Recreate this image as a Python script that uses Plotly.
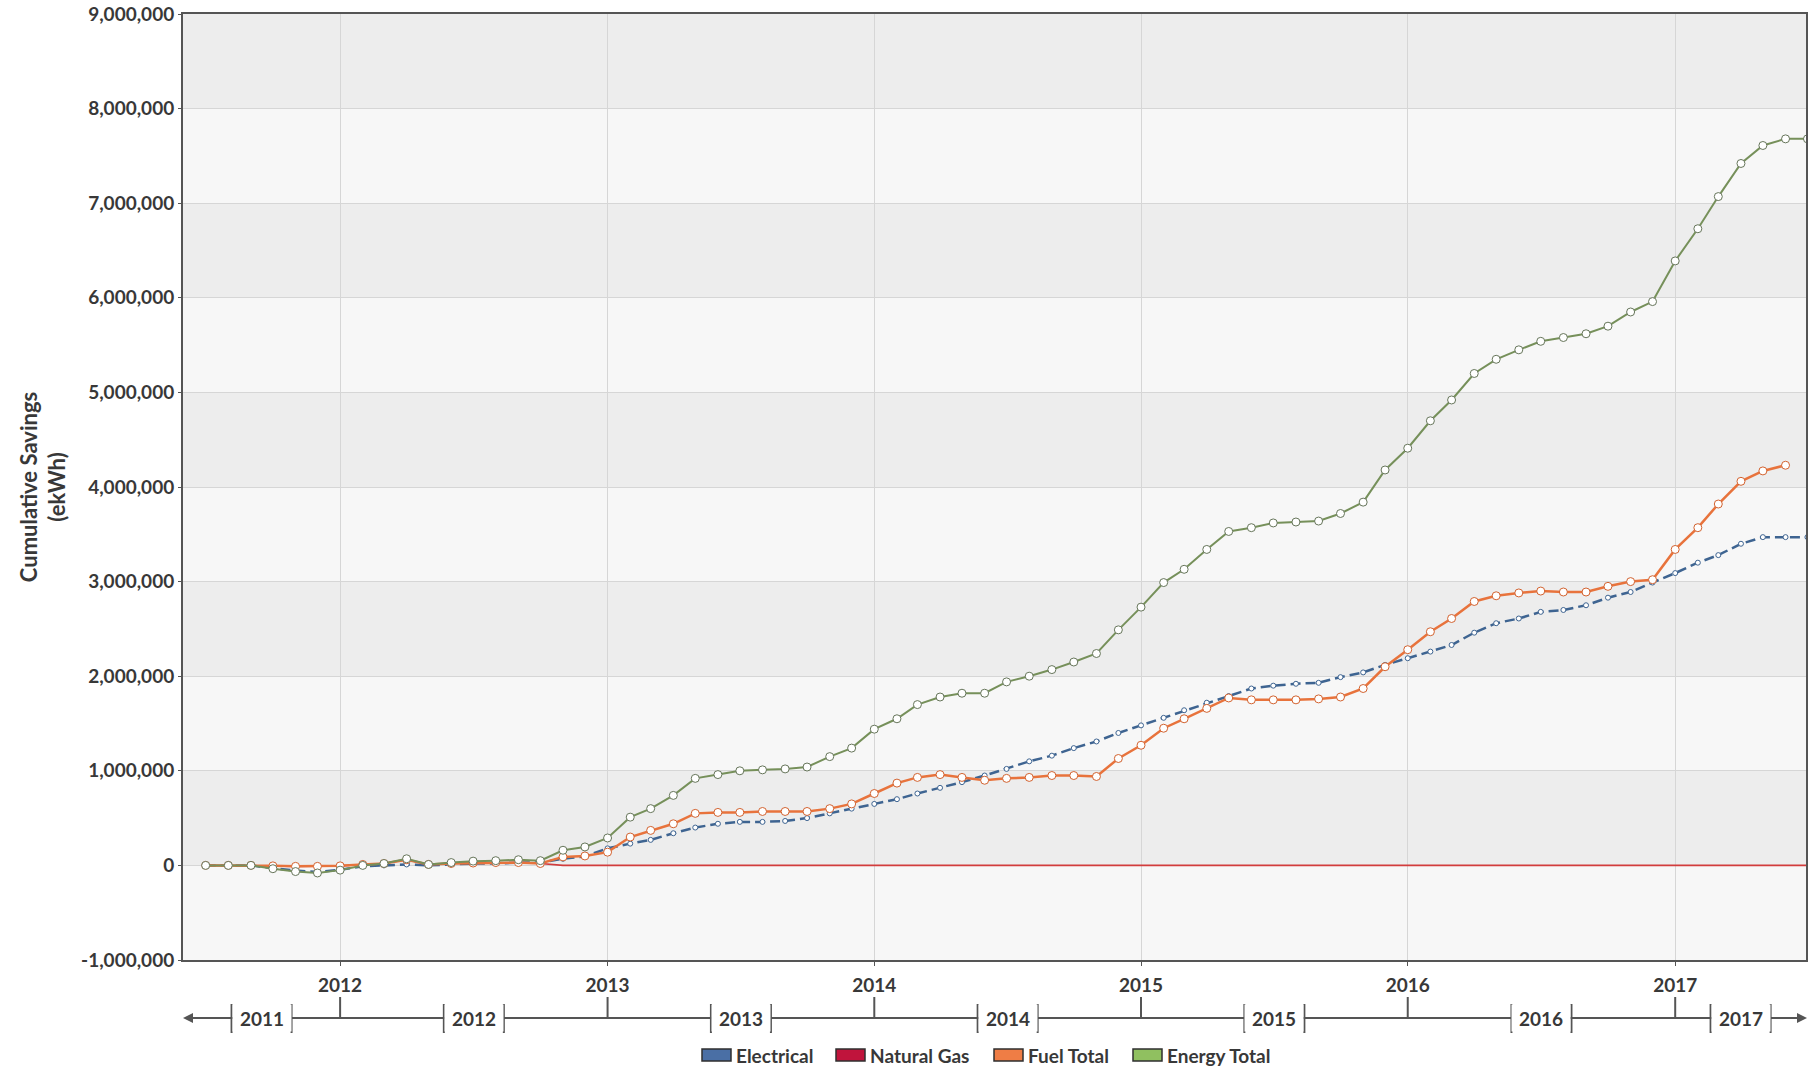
import plotly.graph_objects as go
import pandas as pd

# ---------------- data (monthly, Jul 2011 .. Jul 2017) ----------------
months = pd.date_range("2011-07-01", "2017-07-01", freq="MS").strftime("%Y-%m-%d").tolist()

electrical = [
    0, 0, 0, -30000, -55000, -70000,
    -45000, -10000, 0, 10000, 0, 10000, 20000, 20000, 30000, 30000, 70000, 95000,
    180000, 230000, 270000, 340000, 400000, 440000, 460000, 460000, 470000, 500000, 550000, 600000,
    650000, 700000, 760000, 820000, 880000, 950000, 1020000, 1100000, 1160000, 1240000, 1310000, 1400000,
    1480000, 1560000, 1640000, 1720000, 1790000, 1870000, 1900000, 1920000, 1930000, 1990000, 2040000, 2120000,
    2190000, 2260000, 2330000, 2460000, 2560000, 2610000, 2680000, 2700000, 2750000, 2830000, 2890000, 2990000,
    3090000, 3200000, 3280000, 3400000, 3470000, 3470000, 3470000,
]

natural_gas = [
    0, 0, 0, -5000, -10000, -10000,
    -5000, 10000, 20000, 60000, 10000, 20000, 25000, 30000, 30000, 20000, 0, 0,
    0, 0, 0, 0, 0, 0, 0, 0, 0, 0, 0, 0,
    0, 0, 0, 0, 0, 0, 0, 0, 0, 0, 0, 0,
    0, 0, 0, 0, 0, 0, 0, 0, 0, 0, 0, 0,
    0, 0, 0, 0, 0, 0, 0, 0, 0, 0, 0, 0,
    0, 0, 0, 0, 0, 0, 0,
]

fuel_total = [
    0, 0, 0, -5000, -10000, -10000,
    -5000, 10000, 20000, 60000, 10000, 20000, 25000, 30000, 30000, 20000, 90000, 100000,
    140000, 300000, 370000, 440000, 550000, 560000, 560000, 570000, 570000, 570000, 600000, 650000,
    760000, 870000, 930000, 960000, 930000, 900000, 920000, 930000, 950000, 950000, 940000, 1130000,
    1270000, 1450000, 1550000, 1660000, 1770000, 1750000, 1750000, 1750000, 1760000, 1780000, 1870000, 2100000,
    2280000, 2470000, 2610000, 2790000, 2850000, 2880000, 2900000, 2890000, 2890000, 2950000, 3000000, 3020000,
    3340000, 3570000, 3820000, 4060000, 4170000, 4230000, None,
]

energy_total = [
    0, 0, 0, -35000, -65000, -80000,
    -50000, 0, 20000, 70000, 10000, 30000, 45000, 50000, 60000, 50000, 160000, 195000,
    290000, 510000, 600000, 740000, 920000, 960000, 1000000, 1010000, 1020000, 1040000, 1150000, 1240000,
    1440000, 1550000, 1700000, 1780000, 1820000, 1820000, 1940000, 2000000, 2070000, 2150000, 2240000, 2490000,
    2730000, 2990000, 3130000, 3340000, 3530000, 3570000, 3620000, 3630000, 3640000, 3720000, 3840000, 4180000,
    4410000, 4700000, 4920000, 5200000, 5350000, 5450000, 5540000, 5580000, 5620000, 5700000, 5850000, 5960000,
    6390000, 6730000, 7070000, 7420000, 7610000, 7680000, 7680000,
]

series_names = ["Electrical", "Natural Gas", "Fuel Total", "Energy Total"]
year_ticks = ["2012", "2013", "2014", "2015", "2016", "2017"]
timeline_years = ["2011", "2012", "2013", "2014", "2015", "2016", "2017"]
y_ticks = [-1000000, 0, 1000000, 2000000, 3000000, 4000000, 5000000, 6000000, 7000000, 8000000, 9000000]
y_tick_text = ["-1,000,000", "0", "1,000,000", "2,000,000", "3,000,000", "4,000,000",
               "5,000,000", "6,000,000", "7,000,000", "8,000,000", "9,000,000"]

# ---------------- styling ----------------
W, H = 1818, 1070
ML, MR, MT, MB = 183, 12, 14, 110
PW, PH = W - ML - MR, H - MT - MB
X0, X1 = "2011-05-31", "2017-06-29"

FONT = "Lato"
TXT = "#383838"
AXC = "#555555"

C_ELEC = "#3e6491"
C_GAS = "#d23c3c"
C_FUEL = "#e8733c"
C_ENERGY = "#76905a"


def px(X):
    return (X - ML) / PW


def py(Y):
    return (H - MB - Y) / PH


fig = go.Figure()

fig.add_trace(go.Scatter(
    x=months, y=electrical, name=series_names[0], mode="lines+markers",
    line=dict(color=C_ELEC, width=2.5, dash="10px,5px"),
    marker=dict(size=5, color="white", line=dict(color=C_ELEC, width=1)),
    showlegend=False))
fig.add_trace(go.Scatter(
    x=months, y=natural_gas, name=series_names[1], mode="lines",
    line=dict(color=C_GAS, width=1.6), showlegend=False))
fig.add_trace(go.Scatter(
    x=months, y=fuel_total, name=series_names[2], mode="lines+markers",
    line=dict(color=C_FUEL, width=2.5),
    marker=dict(size=8, color="white", line=dict(color="#d2622f", width=1)),
    showlegend=False))
fig.add_trace(go.Scatter(
    x=months, y=energy_total, name=series_names[3], mode="lines+markers",
    line=dict(color=C_ENERGY, width=2),
    marker=dict(size=8, color="white", line=dict(color="#66755a", width=1)),
    showlegend=False))

shapes = []
# alternating horizontal bands
for k in range(0, 9, 2):
    shapes.append(dict(type="rect", xref="paper", yref="y", x0=0, x1=1,
                       y0=y_ticks[k + 1], y1=y_ticks[k + 2], layer="below",
                       fillcolor="#ededed", line=dict(width=0)))

# timeline (second row of the x axis)
yl = py(1018)
shapes.append(dict(type="line", xref="paper", yref="paper", x0=px(186), x1=px(1803),
                   y0=yl, y1=yl, line=dict(color=AXC, width=2)))
for yr in year_ticks:
    shapes.append(dict(type="line", xref="x", yref="paper", x0=f"{yr}-01-01", x1=f"{yr}-01-01",
                       y0=yl, y1=py(997), line=dict(color=AXC, width=2)))

t0, t1 = pd.Timestamp(X0), pd.Timestamp(X1)
centers = []
for yr in timeline_years:
    a = max(pd.Timestamp(f"{yr}-01-01"), t0)
    b = min(pd.Timestamp(f"{int(yr) + 1}-01-01"), t1)
    centers.append((a + (b - a) / 2).strftime("%Y-%m-%d %H:%M"))

annotations = []
for yr, c in zip(timeline_years, centers):
    for off in (-30, 30):
        shapes.append(dict(type="line", xref="x", yref="paper", xsizemode="pixel", xanchor=c,
                           x0=off, x1=off, y0=py(1004), y1=py(1033),
                           line=dict(color=AXC, width=2)))
    annotations.append(dict(x=c, y=yl, xref="x", yref="paper", text=yr, showarrow=False,
                            width=56, height=24, bgcolor="white", borderpad=1,
                            font=dict(family=FONT, size=19, color=TXT, weight="bold"),
                            xanchor="center", yanchor="middle"))

# arrowheads at both ends of the timeline
annotations.append(dict(x=px(183), y=yl, xref="paper", yref="paper", text="", showarrow=True,
                        ax=14, ay=0, arrowhead=2, arrowsize=1, arrowwidth=2, arrowcolor=AXC))
annotations.append(dict(x=px(1807), y=yl, xref="paper", yref="paper", text="", showarrow=True,
                        ax=-14, ay=0, arrowhead=2, arrowsize=1, arrowwidth=2, arrowcolor=AXC))

# custom legend (boxes + labels)
leg_colors = ["#4a6fa5", "#c0143c", "#ef7d45", "#90c060"]
leg_box_x = [702, 836, 994, 1133]
leg_y = 1055
for name, col, bx in zip(series_names, leg_colors, leg_box_x):
    shapes.append(dict(type="rect", xref="paper", yref="paper", x0=px(bx), x1=px(bx + 29),
                       y0=py(leg_y - 6), y1=py(leg_y + 6), fillcolor=col,
                       line=dict(color="#2f2f2f", width=1.5)))
    annotations.append(dict(x=px(bx + 32), y=py(leg_y), xref="paper", yref="paper", text=name,
                            showarrow=False, xanchor="left", yanchor="middle",
                            font=dict(family=FONT, size=19, color=TXT, weight="bold")))

fig.update_layout(
    width=W, height=H,
    margin=dict(l=ML, r=MR, t=MT, b=MB, autoexpand=False),
    paper_bgcolor="white", plot_bgcolor="#f7f7f7",
    shapes=shapes, annotations=annotations,
    showlegend=False,
    font=dict(family=FONT, color=TXT),
)

fig.update_xaxes(
    type="date", range=[X0, X1],
    tickvals=[f"{yr}-01-01" for yr in year_ticks], ticktext=year_ticks,
    tickfont=dict(family=FONT, size=19, color=TXT, weight="bold"),
    ticks="outside", ticklen=4, tickcolor=AXC, ticklabelstandoff=3,
    showgrid=True, gridcolor="#d6d6d6", gridwidth=1,
    showline=True, linecolor=AXC, linewidth=2, mirror=True,
    zeroline=False,
)
fig.update_yaxes(
    range=[-1000000, 9000000], tickvals=y_ticks, ticktext=y_tick_text,
    tickfont=dict(family=FONT, size=19, color=TXT, weight="bold"),
    ticks="outside", ticklen=3, tickcolor=AXC,
    showgrid=True, gridcolor="#d6d6d6", gridwidth=1,
    showline=True, linecolor=AXC, linewidth=2, mirror=True,
    zeroline=False,
    title=dict(text="Cumulative Savings<br>(ekWh)", standoff=9,
               font=dict(family=FONT, size=22, color=TXT, weight="bold")),
)

fig.write_html(
    "out.html",
    config={"displayModeBar": False},
    post_script="document.body.style.margin='0';document.body.style.overflow='hidden';",
)
